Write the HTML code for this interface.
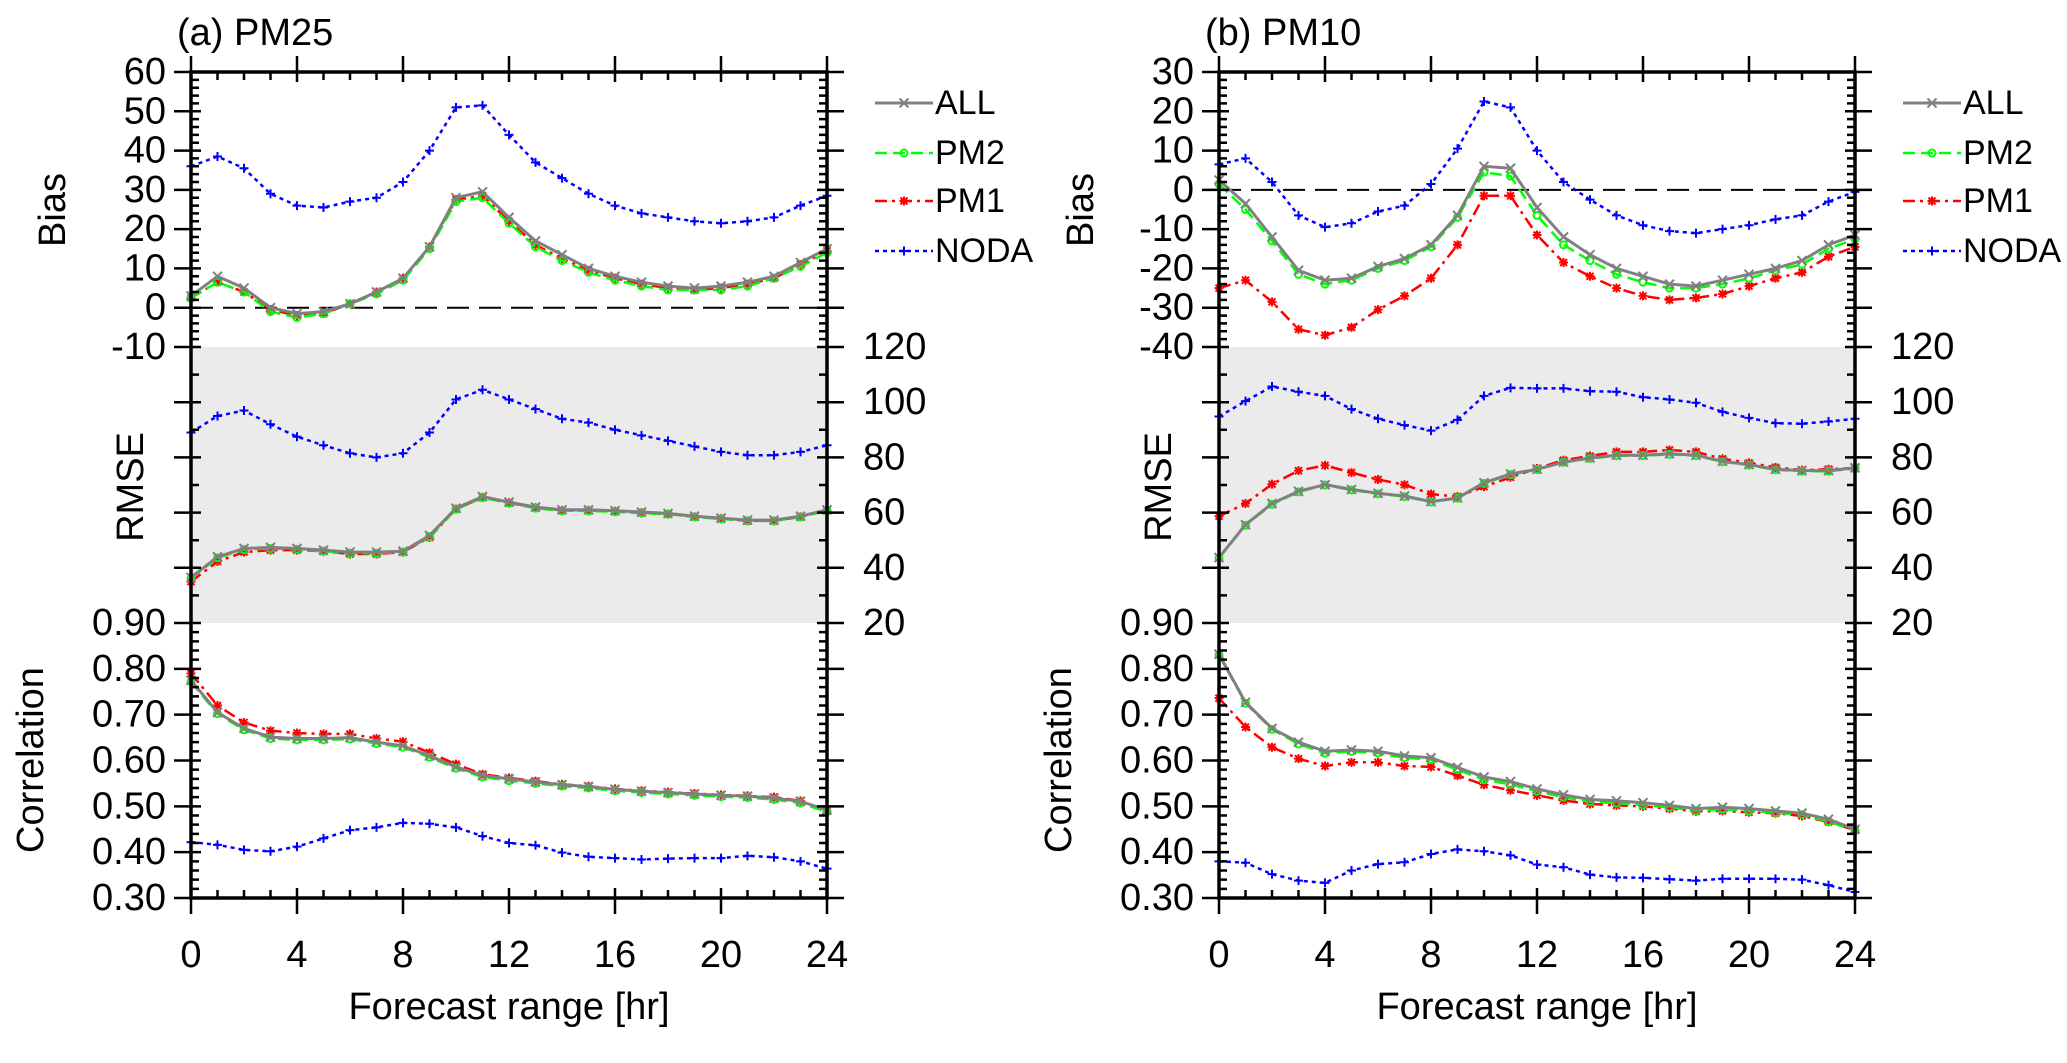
<!DOCTYPE html>
<html><head><meta charset="utf-8"><style>
html,body{margin:0;padding:0;background:#fff}
svg{display:block;font-family:"Liberation Sans",sans-serif}
</style></head><body>
<svg id="chart" width="2067" height="1063" viewBox="0 0 2067 1063" xmlns="http://www.w3.org/2000/svg"></svg>
<script>
const hours = [0,1,2,3,4,5,6,7,8,9,10,11,12,13,14,15,16,17,18,19,20,21,22,23,24];
const xTicks = [0,4,8,12,16,20,24];
const seriesNames = ["NODA","PM1","PM2","ALL"];

const pm25BiasNODA = [36,38.5,35.5,29,26,25.5,27,28,32,40,51,51.5,44,37,33,29,26,24,23,22,21.5,22,23,26,28.5];
const pm25BiasPM1 = [2.5,6.5,4,-0.5,-2,-1.5,1,4,7.5,15.5,27.5,28.5,22,16,12.5,9.5,7.5,6,5,4.5,5,6,7.5,11,14.5];
const pm25BiasPM2 = [2.5,6.5,4,-1,-2.5,-1.5,1,3.5,7,15,27,28,21.5,15.5,12,9,7,5.5,4.5,4.5,4.5,5.5,7.5,10.5,14];
const pm25BiasALL = [3,8,5,0,-1.5,-1,1,4,7.5,15.5,28,29.5,23,17,13.5,10,8,6.5,5.5,5,5.5,6.5,8,11.5,15];

const pm25RmseNODA = [89,95,97,92,87.5,84.4,81.5,80,81.5,89,101,104.5,101,97.5,94,92.6,90,88,86,84,82,80.8,80.8,82,84.4];
const pm25RmsePM1 = [35,42.3,45.7,46.4,46.4,46,45,45,45.7,51,61.3,65.5,63.6,61.8,60.8,60.8,60.5,60,59.5,58.5,57.8,57,57,58.5,60.8];
const pm25RmsePM2 = [36.2,43.6,46.6,47,46.7,46,45.3,45.3,45.7,51.3,61.2,65.4,63.4,61.6,60.6,60.6,60.3,59.8,59.4,58.4,57.7,57,57,58.4,60.7];
const pm25RmseALL = [36.5,44,47,47.4,47,46.4,45.7,45.7,46,51.7,61.6,65.8,63.8,62,61,61,60.7,60.2,59.7,58.7,58,57.3,57.3,58.7,61];

const pm25CorrNODA = [0.422,0.416,0.405,0.402,0.412,0.43,0.448,0.454,0.464,0.462,0.454,0.435,0.42,0.415,0.399,0.39,0.387,0.384,0.386,0.387,0.387,0.392,0.389,0.38,0.364];
const pm25CorrPM1 = [0.79,0.72,0.683,0.665,0.66,0.658,0.658,0.648,0.641,0.617,0.592,0.57,0.562,0.555,0.548,0.544,0.538,0.534,0.531,0.528,0.525,0.523,0.52,0.512,0.49];
const pm25CorrPM2 = [0.772,0.702,0.667,0.648,0.645,0.645,0.647,0.637,0.629,0.607,0.583,0.564,0.556,0.55,0.544,0.54,0.534,0.53,0.527,0.524,0.521,0.519,0.515,0.507,0.488];
const pm25CorrALL = [0.775,0.705,0.67,0.651,0.648,0.648,0.65,0.64,0.632,0.61,0.586,0.567,0.56,0.553,0.547,0.543,0.537,0.533,0.53,0.527,0.524,0.522,0.518,0.511,0.492];

const pm10BiasNODA = [6.5,8,2,-6.5,-9.5,-8.5,-5.5,-4,1.5,10.5,22.5,21,10,2,-2.5,-6.5,-9,-10.5,-11,-10,-9,-7.5,-6.5,-3,-0.5];
const pm10BiasPM1 = [-25,-23,-28.5,-35.5,-37,-35,-30.5,-27,-22.5,-14,-1.5,-1.5,-11.5,-18.5,-22,-25,-27,-28,-27.5,-26.5,-24.5,-22.5,-21,-17,-14.5];
const pm10BiasPM2 = [1.5,-5,-13,-21.5,-24,-23,-20,-18,-14.5,-7,4.5,3.5,-6.5,-14,-18,-21.5,-23.5,-25,-25,-24,-22.5,-20.5,-19,-15,-12.5];
const pm10BiasALL = [2.5,-3.5,-12,-20.5,-23,-22.5,-19.5,-17.5,-14,-6.5,6,5.5,-4.5,-12,-16.5,-20,-22,-24,-24.5,-23,-21.5,-20,-18,-14,-11.5];

const pm10RmseNODA = [94.8,100.4,105.7,103.8,102.3,97.5,94,91.7,89.7,93.6,102.3,105.2,105,105,104,103.8,101.8,101,99.8,96.5,94.3,92.4,92.2,93,94];
const pm10RmsePM1 = [58.7,63.3,70.3,75.2,77.1,74.5,72,70.1,66.7,65.8,69.4,72.8,76,79,80.5,82,82,82.7,82,79.5,78,76.4,75.4,75.7,76.2];
const pm10RmsePM2 = [43.5,55.4,63,67.5,70,68.2,66.8,65.8,63.8,65.2,70.6,73.8,75.6,78.2,79.6,80.6,80.6,81.1,80.6,78.4,77.2,75.5,75,75,76];
const pm10RmseALL = [43.7,55.6,63.3,67.7,70.1,68.4,67,66,64,65.3,70.8,74,75.7,78.3,79.8,80.8,80.8,81.3,80.8,78.6,77.4,75.7,75.2,75.2,76.2];

const pm10CorrNODA = [0.38,0.377,0.352,0.338,0.333,0.36,0.374,0.378,0.396,0.406,0.402,0.393,0.373,0.367,0.351,0.345,0.344,0.341,0.338,0.342,0.342,0.342,0.34,0.328,0.313];
const pm10CorrPM1 = [0.736,0.673,0.629,0.604,0.588,0.596,0.596,0.588,0.586,0.567,0.547,0.535,0.524,0.513,0.505,0.502,0.5,0.495,0.489,0.49,0.487,0.485,0.479,0.466,0.448];
const pm10CorrPM2 = [0.83,0.725,0.668,0.636,0.616,0.62,0.616,0.606,0.602,0.58,0.558,0.548,0.533,0.52,0.51,0.507,0.503,0.498,0.49,0.494,0.49,0.486,0.482,0.467,0.447];
const pm10CorrALL = [0.832,0.727,0.67,0.64,0.62,0.623,0.62,0.61,0.606,0.585,0.564,0.554,0.538,0.525,0.515,0.512,0.508,0.502,0.495,0.498,0.495,0.49,0.485,0.472,0.45];

const pm25BiasTicks = [60,50,40,30,20,10,0,-10];
const pm10BiasTicks = [30,20,10,0,-10,-20,-30,-40];
const rmseTicks = [120,100,80,60,40,20];
const corrTicks = [0.9,0.8,0.7,0.6,0.5,0.4,0.3];

const NS="http://www.w3.org/2000/svg";
const svg=document.getElementById('chart');
function mk(tag,attrs,parent){const e=document.createElementNS(NS,tag);for(const k in attrs)e.setAttribute(k,attrs[k]);(parent||svg).appendChild(e);return e;}

const styles={
 NODA:{color:"#0000ff",dash:"4,4",w:2.5,marker:"plus"},
 PM1:{color:"#ff0000",dash:"12,5,3,5",w:2.5,marker:"star"},
 PM2:{color:"#00ff00",dash:"12,6",w:2.5,marker:"circle"},
 ALL:{color:"#808080",dash:"",w:3,marker:"cross"}
};
function marker(g,type,x,y,color){
 const s=4.5;
 if(type==="plus"){mk('path',{d:`M${x-s} ${y}H${x+s}M${x} ${y-s}V${y+s}`,stroke:color,'stroke-width':2},g);}
 else if(type==="cross"){mk('path',{d:`M${x-s} ${y-s}L${x+s} ${y+s}M${x-s} ${y+s}L${x+s} ${y-s}`,stroke:color,'stroke-width':2},g);}
 else if(type==="circle"){mk('circle',{cx:x,cy:y,r:3.5,fill:'none',stroke:color,'stroke-width':2},g);}
 else {mk('path',{d:`M${x-s} ${y}H${x+s}M${x} ${y-s}V${y+s}M${x-3.5} ${y-3.5}L${x+3.5} ${y+3.5}M${x-3.5} ${y+3.5}L${x+3.5} ${y-3.5}`,stroke:color,'stroke-width':2},g);}
}

function panel(cfg){
 const L=cfg.left,R=cfg.left+636,T=72,M1=347,M2=623,B=898;
 const g=mk('g',{});
 
 
 const xs=h=>L+(h/24)*(R-L);
 const yBias=v=>T+(cfg.bmax-v)/(cfg.bmax-cfg.bmin)*(M1-T);
 const yRmse=v=>M1+(120-v)/100*(M2-M1);
 const yCorr=v=>M2+(0.9-v)/0.6*(B-M2);
 const band=mk('rect',{x:L,y:M1,width:R-L,height:M2-M1,fill:'#ebebeb'},g);
 
 
 const zl=mk('line',{x1:L,x2:R,y1:yBias(0),y2:yBias(0),stroke:'#000','stroke-width':2,'stroke-dasharray':'22,10'},g);
 
 
 const data={bias:cfg.bias,rmse:cfg.rmse,corr:cfg.corr};
 const yf={bias:yBias,rmse:yRmse,corr:yCorr};
 for(const sec of ['bias','rmse','corr']){
  seriesNames.forEach((nm,i)=>{
   const st=styles[nm];const vals=data[sec][i];
   const sg=mk('g',{},g);
   
   
   const pts=vals.map((v,j)=>xs(hours[j]).toFixed(1)+','+yf[sec](v).toFixed(1)).join(' ');
   const pl=mk('polyline',{points:pts,fill:'none',stroke:st.color,'stroke-width':st.w,'stroke-dasharray':st.dash},sg);
   
   
   vals.forEach((v,j)=>marker(sg,st.marker,xs(hours[j]),yf[sec](v),st.color));
  });
 }
 const fr=mk('rect',{x:L,y:T,width:R-L,height:B-T,fill:'none',stroke:'#000','stroke-width':3.5},g);
 
 
 let d='';
 for(let h=0;h<=24;h++){const x=xs(h);const big=h%4===0;
  d+=`M${x} ${B+(big?16:0)}V${B-(big?10:8)}M${x} ${T-(big?16:0)}V${T+(big?10:8)}`;}
 for(let v=cfg.bmin;v<=cfg.bmax;v+=2){const y=yBias(v);const big=v%10===0;
  d+=`M${L-(big?17:0)} ${y}H${L+(big?10:8)}M${R+(big?17:0)} ${y}H${R-(big?10:8)}`;}
 for(let v=20;v<=120;v+=10){const y=yRmse(v);const big=v%20===0;
  d+=`M${L-(big?17:0)} ${y}H${L+(big?10:8)}M${R+(big?17:0)} ${y}H${R-(big?10:8)}`;}
 for(let k=30;k<=90;k+=2){const y=yCorr(k/100);const big=k%10===0;
  d+=`M${L-(big?17:0)} ${y}H${L+(big?10:8)}M${R+(big?17:0)} ${y}H${R-(big?10:8)}`;}
 mk('path',{d:d,stroke:'#000','stroke-width':2.5,fill:'none'},g);
 const txt=(s,x,y,anchor,name,extra)=>{const t=mk('text',Object.assign({x:x,y:y,'text-anchor':anchor,'font-size':38,'dominant-baseline':'central',fill:'#000'},extra||{}),g);t.textContent=s;
  
  return t;};
 xTicks.forEach(h=>txt(String(h),xs(h),955,'middle','x-tick-label'));
 cfg.bTicks.forEach(v=>txt(String(v),L-25,yBias(v),'end','bias-tick-label'));
 rmseTicks.forEach(v=>txt(String(v),R+36,yRmse(v),'start','rmse-tick-label'));
 corrTicks.forEach(v=>txt(v.toFixed(2),L-25,yCorr(v),'end','corr-tick-label'));
 txt('Forecast range [hr]',(L+R)/2,1007,'middle','x-axis-title');
 txt(cfg.title,L-14,33,'start','panel-title');
 const yl=(s,x,y,name)=>txt(s,x,y,'middle',name,{transform:`rotate(-90 ${x} ${y})`});
 yl('Bias',L-138,210,'bias-axis-title');
 yl('RMSE',L-60,487,'rmse-axis-title');
 yl('Correlation',L-160,760,'correlation-axis-title');
 const lg=mk('g',{},g);
 
 
 const order=["ALL","PM2","PM1","NODA"];const ly=[103,153,201,251];
 order.forEach((nm,i)=>{const st=styles[nm];const e=mk('g',{},lg);
  
  
  const x1=R+48,x2=R+106;
  mk('line',{x1:x1,x2:x2,y1:ly[i],y2:ly[i],stroke:st.color,'stroke-width':st.w,'stroke-dasharray':st.dash},e);
  marker(e,st.marker,(x1+x2)/2,ly[i],st.color);
  const t=mk('text',{x:x2+2,y:ly[i],'font-size':34,'dominant-baseline':'central'},e);t.textContent=nm;
 });
}
panel({name:'pm25-panel',short:'pm25',left:191,title:'(a) PM25',bmin:-10,bmax:60,bTicks:pm25BiasTicks,
 bias:[pm25BiasNODA,pm25BiasPM1,pm25BiasPM2,pm25BiasALL],
 rmse:[pm25RmseNODA,pm25RmsePM1,pm25RmsePM2,pm25RmseALL],
 corr:[pm25CorrNODA,pm25CorrPM1,pm25CorrPM2,pm25CorrALL]});
panel({name:'pm10-panel',short:'pm10',left:1219,title:'(b) PM10',bmin:-40,bmax:30,bTicks:pm10BiasTicks,
 bias:[pm10BiasNODA,pm10BiasPM1,pm10BiasPM2,pm10BiasALL],
 rmse:[pm10RmseNODA,pm10RmsePM1,pm10RmsePM2,pm10RmseALL],
 corr:[pm10CorrNODA,pm10CorrPM1,pm10CorrPM2,pm10CorrALL]});
</script>
</body></html>
